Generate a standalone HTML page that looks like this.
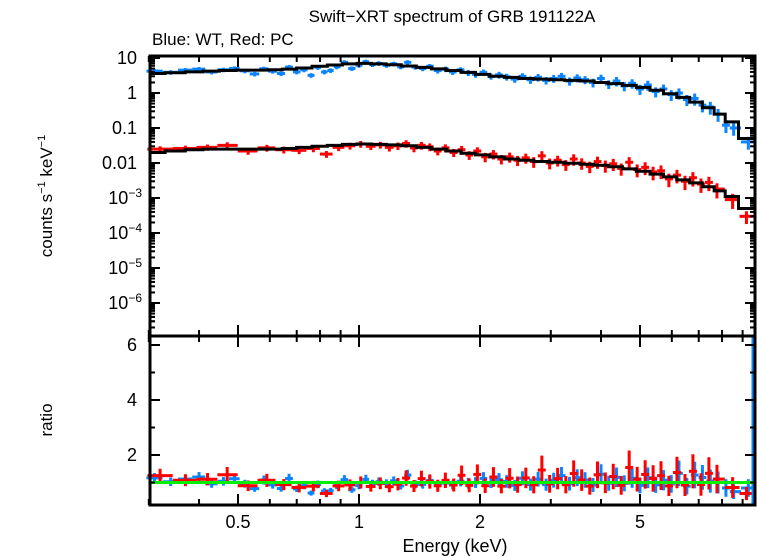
<!DOCTYPE html>
<html><head><meta charset="utf-8"><style>
body{margin:0;background:#fff;}
svg{display:block;font-family:"Liberation Sans",sans-serif;}
</style></head><body>
<svg id="chart" width="758" height="556">
<text x="452" y="22" font-size="17" text-anchor="middle">Swift−XRT spectrum of GRB 191122A</text>
<text x="152" y="45" font-size="17">Blue: WT, Red: PC</text>
<text transform="translate(52,196) rotate(-90)" font-size="17" text-anchor="middle">counts s<tspan font-size="11" dy="-7">−1</tspan><tspan dy="7"> keV</tspan><tspan font-size="11" dy="-7">−1</tspan></text>
<text transform="translate(52,420) rotate(-90)" font-size="17" text-anchor="middle">ratio</text>
<text x="455" y="552" font-size="18" text-anchor="middle">Energy (keV)</text>
<g id="marks"></g>
<g id="axes"></g>
</svg>
<script>
const modelE=[0.31,0.35,0.39,0.43,0.47,0.52,0.57,0.62,0.67,0.73,0.8,0.87,0.95,1.03,1.12,1.22,1.33,1.45,1.58,1.72,1.87,2.03,2.2,2.4,2.6,2.85,3.1,3.4,3.7,4.0,4.35,4.7,5.1,5.5,5.95,6.4,6.9,7.4,7.9,8.4,9.2];
const blueModel=[3.6,3.8,4.0,4.2,4.4,4.5,4.5,4.6,4.8,5.2,5.8,6.3,6.8,7.0,6.8,6.4,5.9,5.4,4.9,4.4,3.9,3.4,3.0,2.8,2.6,2.5,2.4,2.3,2.2,2.0,1.85,1.65,1.45,1.2,0.95,0.75,0.55,0.38,0.25,0.15,0.05];
const redModel=[0.020,0.022,0.024,0.025,0.025,0.025,0.025,0.025,0.026,0.028,0.030,0.032,0.034,0.035,0.034,0.033,0.031,0.028,0.025,0.022,0.019,0.017,0.015,0.013,0.012,0.011,0.0105,0.0098,0.0092,0.0086,0.0078,0.0068,0.0058,0.0048,0.0040,0.0033,0.0027,0.0021,0.0016,0.0011,0.0005];
const blueE=[0.31,0.34,0.37,0.40,0.43,0.46,0.49,0.52,0.55,0.58,0.61,0.64,0.67,0.70,0.73,0.76,0.79,0.82,0.85,0.88,0.92,0.96,1.00,1.04,1.08,1.12,1.17,1.22,1.27,1.32,1.38,1.44,1.50,1.57,1.64,1.71,1.79,1.87,1.95,2.04,2.13,2.23,2.33,2.44,2.55,2.67,2.79,2.92,3.05,3.19,3.34,3.49,3.65,3.82,4.0,4.18,4.37,4.57,4.78,5.0,5.23,5.47,5.72,5.98,6.25,6.54,6.84,7.15,7.48,7.82,8.18,8.55,9.3];
const blueCounts=[4.2,3.9,4.5,4.8,4.0,4.6,5.0,4.3,3.5,4.9,4.2,3.6,5.5,4.0,4.6,3.2,5.4,4.0,4.4,5.6,7.5,5.0,6.2,7.8,6.5,7.0,6.2,6.8,5.6,7.5,5.5,5.0,5.8,4.4,4.8,4.0,4.6,3.8,3.4,3.9,3.0,3.3,2.9,2.5,3.0,2.4,2.8,2.3,2.6,3.0,2.2,2.7,2.4,2.0,2.6,1.8,2.2,1.6,1.9,1.3,1.7,1.1,1.3,0.9,1.0,0.65,0.7,0.45,0.4,0.25,0.12,0.1,0.04];
const blueErr=[0.15,0.15,0.15,0.15,0.15,0.15,0.15,0.15,0.15,0.15,0.15,0.15,0.15,0.15,0.15,0.15,0.15,0.15,0.15,0.15,0.15,0.15,0.15,0.15,0.15,0.15,0.15,0.15,0.15,0.15,0.16,0.16,0.16,0.18,0.18,0.18,0.18,0.2,0.2,0.2,0.2,0.22,0.22,0.22,0.22,0.24,0.24,0.24,0.25,0.25,0.26,0.26,0.26,0.28,0.28,0.28,0.3,0.3,0.3,0.32,0.32,0.32,0.34,0.34,0.35,0.35,0.38,0.38,0.4,0.4,0.4,0.4,0.4];
const redE=[0.32,0.37,0.42,0.47,0.53,0.59,0.65,0.71,0.77,0.83,0.89,0.95,1.01,1.07,1.13,1.19,1.25,1.31,1.37,1.43,1.5,1.57,1.64,1.72,1.8,1.88,1.97,2.06,2.16,2.26,2.37,2.48,2.6,2.72,2.85,2.98,3.12,3.27,3.42,3.58,3.75,3.92,4.1,4.29,4.49,4.7,4.92,5.15,5.39,5.64,5.9,6.18,6.47,6.77,7.09,7.42,7.77,8.5,9.2];
const redCounts=[0.025,0.026,0.028,0.032,0.022,0.027,0.024,0.023,0.026,0.018,0.028,0.031,0.035,0.030,0.033,0.028,0.031,0.036,0.027,0.032,0.029,0.022,0.027,0.020,0.024,0.017,0.022,0.015,0.018,0.013,0.015,0.012,0.014,0.011,0.016,0.010,0.012,0.009,0.013,0.010,0.008,0.011,0.0085,0.0095,0.007,0.0105,0.0065,0.0075,0.0055,0.0060,0.0035,0.0045,0.0030,0.0038,0.0025,0.0028,0.0018,0.0009,0.0003];
const redErr=[0.2,0.2,0.2,0.22,0.22,0.22,0.22,0.22,0.22,0.22,0.22,0.22,0.22,0.22,0.22,0.24,0.24,0.24,0.25,0.25,0.25,0.25,0.26,0.26,0.28,0.28,0.28,0.3,0.3,0.3,0.32,0.32,0.32,0.34,0.36,0.34,0.34,0.34,0.36,0.36,0.36,0.38,0.38,0.38,0.38,0.4,0.4,0.4,0.42,0.42,0.42,0.42,0.44,0.44,0.44,0.44,0.46,0.46,0.4];
const xTicks=[0.5,1,2,5];
const ratioTicks=[2,4,6];
const logTicks=[["10",1],["1",0],["0.1",-1],["0.01",-2],["10|−3",-3],["10|−4",-4],["10|−5",-5],["10|−6",-6]];

const L=150,R=755,T1=56,B1=336,B2=505;
function X(e){return 359+402*Math.log10(e);}
function Y1(v){return 58-35*(Math.log10(v)-1);}
function Y2(r){return 510-27.5*r;}
const NS="http://www.w3.org/2000/svg";
const marks=document.getElementById('marks'),axes=document.getElementById('axes');
function mk(p,tag,at){const el=document.createElementNS(NS,tag);for(const k in at)el.setAttribute(k,at[k]);p.appendChild(el);return el;}
function edges(arr,i){const lo=i>0?Math.sqrt(arr[i-1]*arr[i]):arr[i]*arr[i]/Math.sqrt(arr[i]*arr[i+1]);const hi=i<arr.length-1?Math.sqrt(arr[i]*arr[i+1]):arr[i]*arr[i]/Math.sqrt(arr[i-1]*arr[i]);return [lo,hi];}
function modelAt(model,e){let best=0;for(let i=0;i<modelE.length;i++){const [lo,hi]=edges(modelE,i);if(e>=lo&&e<hi){best=i;break;}if(e>=hi)best=i;}return model[best];}
function series(E,counts,err,model,col,nm){
  E.forEach((e,i)=>{
    const [lo,hi]=edges(E,i);
    const v=counts[i], ev=v*err[i];
    const g=mk(marks,'g',{stroke:col,'stroke-width':3});
    
    
    mk(g,'line',{x1:X(lo),x2:Math.min(X(hi),R),y1:Y1(v),y2:Y1(v)});
    mk(g,'line',{x1:X(e),x2:X(e),y1:Y1(v+ev),y2:Y1(v-ev)});
    const m=modelAt(model,e),r=v/m,er=ev/m;
    const g2=mk(marks,'g',{stroke:col,'stroke-width':3});
    
    
    mk(g2,'line',{x1:X(lo),x2:Math.min(X(hi),R),y1:Y2(r),y2:Y2(r)});
    mk(g2,'line',{x1:X(e),x2:X(e),y1:Math.max(Y2(r+er),B1),y2:Math.min(Y2(r-er),B2)});
  });
}
function modelLine(model,nm){
  let d='';
  modelE.forEach((e,i)=>{const [lo,hi]=edges(modelE,i);const y=Y1(model[i]);d+=(i?'L':'M')+Math.max(X(lo),L)+' '+y+'L'+Math.min(X(hi),R)+' '+y;});
  const p=mk(marks,'path',{d:d,fill:'none',stroke:'#000','stroke-width':3});
  
  
}
series(blueE,blueCounts,blueErr,blueModel,'#0a84ff','wt');
series(redE,redCounts,redErr,redModel,'#ff0000','pc');
modelLine(blueModel,'wt');
modelLine(redModel,'pc');
const bl=mk(marks,'line',{x1:753,x2:753,y1:B1,y2:B2,stroke:'#0a84ff','stroke-width':3});


const gl=mk(marks,'line',{x1:L,x2:R,y1:Y2(1),y2:Y2(1),stroke:'#00ee00','stroke-width':3});



[[T1,B1,'top-panel-frame'],[B1,B2,'bottom-panel-frame']].forEach(f=>{
  const r=mk(axes,'rect',{x:L,y:f[0],width:R-L,height:f[1]-f[0],fill:'none',stroke:'#000','stroke-width':3});
  
  
});
const minorE=[0.3,0.4,0.6,0.7,0.8,0.9,3,4,6,7,8,9];
minorE.forEach(e=>{[T1,B1].forEach(y=>mk(axes,'line',{x1:X(e),x2:X(e),y1:y,y2:y+6,stroke:'#000','stroke-width':2}));[B1,B2].forEach(y=>mk(axes,'line',{x1:X(e),x2:X(e),y1:y,y2:y-6,stroke:'#000','stroke-width':2}));});
xTicks.forEach(e=>{
  [T1,B1].forEach(y=>mk(axes,'line',{x1:X(e),x2:X(e),y1:y,y2:y+11,stroke:'#000','stroke-width':2}));
  [B1,B2].forEach(y=>mk(axes,'line',{x1:X(e),x2:X(e),y1:y,y2:y-11,stroke:'#000','stroke-width':2}));
  const t=mk(axes,'text',{x:X(e),y:528,'font-size':18,'text-anchor':'middle'});t.textContent=String(e);
  
  
});
logTicks.forEach(([lab,p])=>{
  const y=Y1(Math.pow(10,p));
  [[L,L+10],[R,R-10]].forEach(a=>mk(axes,'line',{x1:a[0],x2:a[1],y1:y,y2:y,stroke:'#000','stroke-width':2}));
  for(let k=2;k<10;k++){const ym=Y1(k*Math.pow(10,p-1));if(ym<B1&&ym>T1)[[L,L+5],[R,R-5]].forEach(a=>mk(axes,'line',{x1:a[0],x2:a[1],y1:ym,y2:ym,stroke:'#000','stroke-width':2}));}
  const t=mk(axes,'text',{x:137,y:y+6,'font-size':18,'text-anchor':'end'});
  
  
  if(lab.includes('|')){const [b,ex]=lab.split('|');t.innerHTML=b+'<tspan font-size="12" dy="-7">'+ex+'</tspan>';t.setAttribute('x',142);}
  else t.textContent=lab;
});
for(let k=2;k<10;k++){const ym=Y1(k*1e-7);if(ym<B1)[[L,L+5],[R,R-5]].forEach(a=>mk(axes,'line',{x1:a[0],x2:a[1],y1:ym,y2:ym,stroke:'#000','stroke-width':2}));}
[1,2,3,4,5,6].forEach(r=>{const y=Y2(r);const len=r%2?5:10;[[L,L+len],[R,R-len]].forEach(a=>mk(axes,'line',{x1:a[0],x2:a[1],y1:y,y2:y,stroke:'#000','stroke-width':2}));});
ratioTicks.forEach(r=>{const t=mk(axes,'text',{x:137,y:Y2(r)+6,'font-size':18,'text-anchor':'end'});t.textContent=String(r);
  
  });
</script>
</body></html>
